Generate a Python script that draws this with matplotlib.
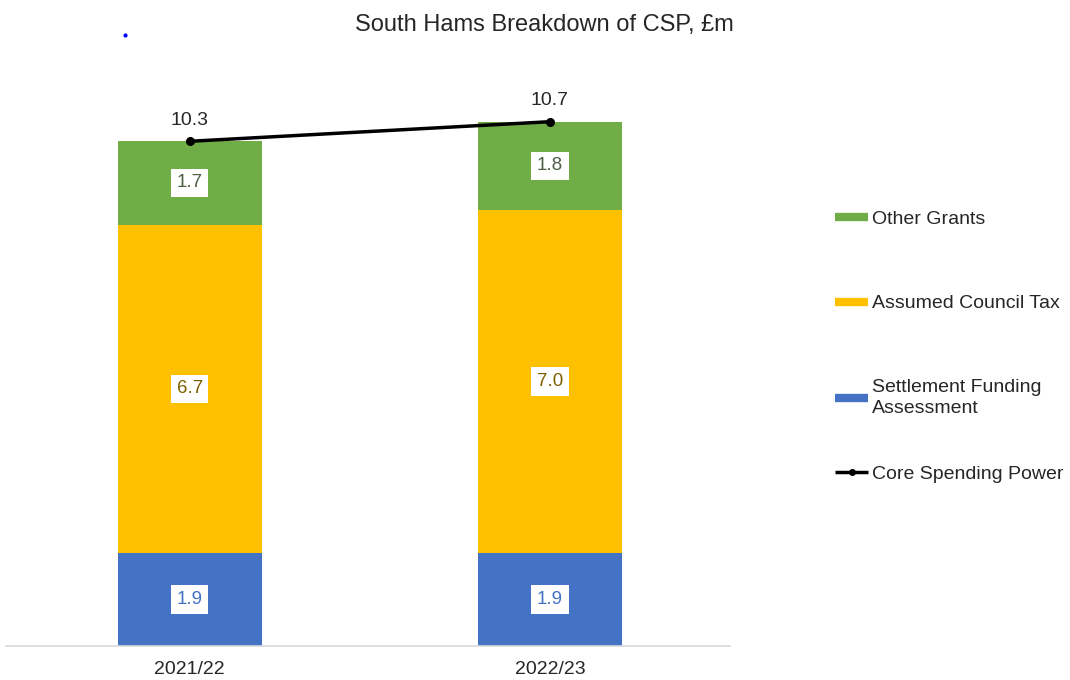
import matplotlib
matplotlib.use("Agg")
import matplotlib.pyplot as plt
from matplotlib.lines import Line2D

plt.rcParams['font.family'] = ['Liberation Sans', 'DejaVu Sans']

categories = ["2021/22", "2022/23"]
sfa = [1.9, 1.9]
council_tax = [6.7, 7.0]
other_grants = [1.7, 1.8]
csp = [10.3, 10.7]

c_green = "#70AD47"
c_yellow = "#FFC000"
c_blue = "#4472C4"

fig = plt.figure(figsize=(10.7, 6.8), dpi=100)
ax = fig.add_axes([6/1070, 1 - 646/680, 724/1070, 588/680])

x = list(range(len(categories)))
w = 0.4
ax.bar(x, sfa, w, color=c_blue)
ax.bar(x, council_tax, w, bottom=sfa, color=c_yellow)
bottom3 = [a + b for a, b in zip(sfa, council_tax)]
ax.bar(x, other_grants, w, bottom=bottom3, color=c_green)

box = dict(boxstyle="square,pad=0.3", fc="white", ec="none")
fs_lab = 13.5
for i in x:
    ax.text(i, sfa[i] / 2, f"{sfa[i]:.1f}", ha="center", va="center",
            fontsize=fs_lab, color="#4472C4", bbox=box)
    ax.text(i, sfa[i] + council_tax[i] / 2, f"{council_tax[i]:.1f}", ha="center",
            va="center", fontsize=fs_lab, color="#7F6000", bbox=box)
    ax.text(i, bottom3[i] + other_grants[i] / 2, f"{other_grants[i]:.1f}", ha="center",
            va="center", fontsize=fs_lab, color="#4E5F45", bbox=box)

ax.plot(x, csp, color="black", lw=2.5, marker="o", ms=5.5)
for i in x:
    ax.annotate(f"{csp[i]:.1f}", (i, csp[i]), xytext=(0, 9), textcoords="offset points",
                ha="center", va="bottom", fontsize=14, color="#262626")

ax.set_xlim(-0.51, 1.5)
ax.set_ylim(0, 12)
ax.set_xticks(x)
ax.set_xticklabels(categories, fontsize=14, color="#262626")
ax.tick_params(axis="x", length=0, pad=11)
ax.set_yticks([])
for s in ["top", "right", "left"]:
    ax.spines[s].set_visible(False)
ax.spines["bottom"].set_color("#D9D9D9")
ax.spines["bottom"].set_linewidth(1.2)

fig.text(544/1070, 1 - 25/680, "South Hams Breakdown of CSP, £m", ha="center", va="center",
         fontsize=17, color="#262626")
fig.add_artist(Line2D([125/1070], [1 - 35/680], marker="o", ms=2, color="blue", lw=0))

fs_leg = 14
bar_handles = [
    Line2D([], [], color=c_green, lw=6, solid_capstyle="butt"),
    Line2D([], [], color=c_yellow, lw=6, solid_capstyle="butt"),
    Line2D([], [], color=c_blue, lw=6, solid_capstyle="butt"),
]
bar_labels = ["Other Grants", "Assumed Council Tax", "Settlement Funding\nAssessment"]
leg1 = fig.legend(bar_handles, bar_labels, loc="upper left",
                  bbox_to_anchor=(835/1070, 1 - 210/680),
                  frameon=False, fontsize=fs_leg, labelspacing=3.45, handlelength=1.7,
                  handletextpad=0.2, borderaxespad=0, borderpad=0)
for t in leg1.get_texts():
    t.set_color("#262626")
    t.set_linespacing(1.3)

line_handle = [Line2D([], [], color="black", lw=2.5, marker="o", ms=4,
                      solid_capstyle="butt")]
leg2 = fig.legend(line_handle, ["Core Spending Power"], loc="upper left",
                  bbox_to_anchor=(835/1070, 1 - 465/680),
                  frameon=False, fontsize=fs_leg, handlelength=1.7,
                  handletextpad=0.2, borderaxespad=0, borderpad=0)
for t in leg2.get_texts():
    t.set_color("#262626")

fig.savefig("out.png", dpi=100)
